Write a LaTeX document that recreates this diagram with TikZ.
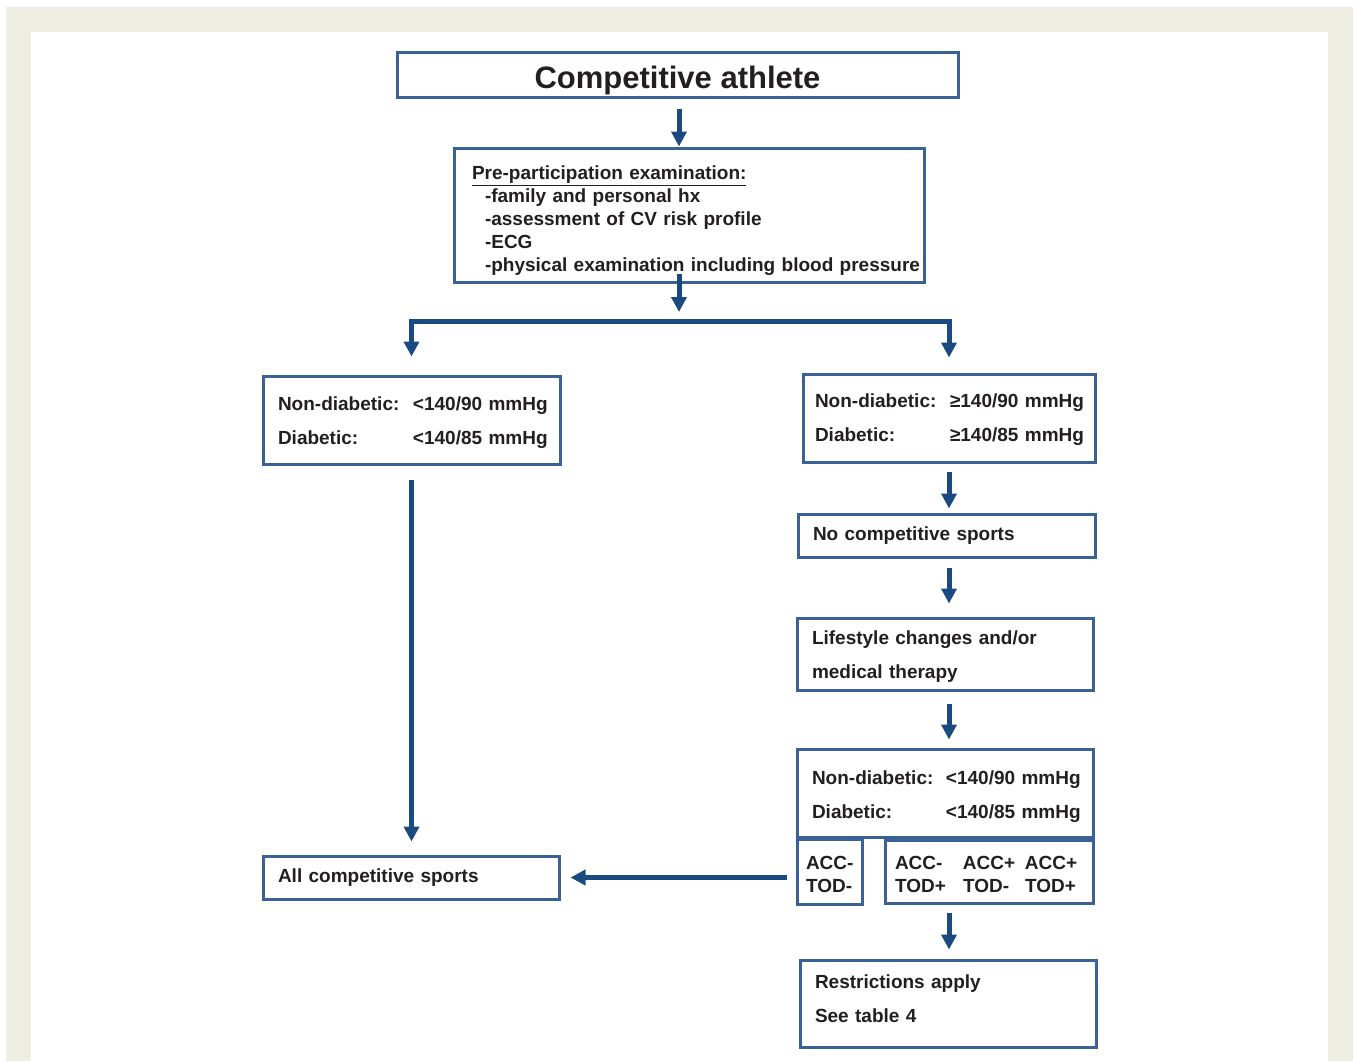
\documentclass[tikz,border=0pt]{standalone}
\usepackage{fontspec}
\setmainfont{Liberation Sans}
\usepackage{tikz}
\usetikzlibrary{arrows.meta,calc}
\definecolor{frameblue}{RGB}{58,98,150}
\definecolor{arrowblue}{RGB}{26,74,130}
\definecolor{pagebeige}{RGB}{239,238,227}
\definecolor{textgray}{RGB}{35,31,32}
\newcommand{\bpcol}[2]{\mbox{\makebox[#1][l]{#2}}}

\begin{document}
\begin{tikzpicture}[x=1pt, y=-1pt,
  block/.style={draw=frameblue, line width=3pt, fill=white, text=textgray, align=left,
    inner xsep=15pt, inner ysep=0pt, font=\bfseries\fontsize{19}{34}\selectfont},
  tightblock/.style={block, inner xsep=#1, font=\bfseries\fontsize{19}{23}\selectfont},
  arrow/.style={-{Triangle[length=15pt,width=15pt]}, line width=5pt, draw=arrowblue}
]
\useasboundingbox (0,0) rectangle (1353,1061);
\fill[pagebeige] (6,7) rectangle (1353,1061);
\fill[white] (31,32) rectangle (1328,1061);

\node[block, align=center, minimum width=561pt, minimum height=45pt, text height=27pt, text depth=0pt,
  font=\bfseries\fontsize{31}{36}\selectfont] (athlete) at (677.5,74.5) {Competitive athlete};
\node[tightblock=18pt, text width=434pt, minimum height=134pt, text depth=84pt] (ppe) at (689,215)
  {\mbox{\underline{Pre-participation examination:}}\\
   \mbox{\hspace*{13pt}-family and personal hx}\\
   \mbox{\hspace*{13pt}-assessment of CV risk profile}\\
   \mbox{\hspace*{13pt}-ECG}\\
   \mbox{\hspace*{13pt}-physical examination including blood pressure}};
\node[block, text width=267pt, minimum height=88pt, text depth=32pt] (normleft) at (411.5,420)
  {\bpcol{135pt}{Non-diabetic:}\mbox{<140/90 mmHg}\\\bpcol{135pt}{Diabetic:}\mbox{<140/85 mmHg}};
\node[block, inner xsep=12pt, text width=268pt, minimum height=88pt, text depth=34pt] (highright) at (949,418)
  {\bpcol{135pt}{Non-diabetic:}\mbox{≥140/90 mmHg}\\\bpcol{135pt}{Diabetic:}\mbox{≥140/85 mmHg}};
\node[block, text width=267pt, minimum height=43pt] (nosport) at (946.5,535.5) {No competitive sports};
\node[block, text width=266pt, minimum height=72pt, text depth=32pt] (lifestyle) at (945,654)
  {Lifestyle changes and/or\\medical therapy};
\node[block, text width=266pt, minimum height=88pt, text depth=30pt] (control) at (945,793)
  {\bpcol{134pt}{Non-diabetic:}\mbox{<140/90 mmHg}\\\bpcol{134pt}{Diabetic:}\mbox{<140/85 mmHg}};
\node[tightblock=9pt, text width=47pt, minimum height=65pt, text depth=17pt] (accnone) at (829.5,871.5)
  {\mbox{ACC-}\\\mbox{TOD-}};
\node[tightblock=10pt, text width=188pt, minimum height=63pt, text depth=17pt] (accplus) at (989,871.5)
  {\bpcol{68pt}{ACC-}\bpcol{62pt}{ACC+}\mbox{ACC+}\\\bpcol{68pt}{TOD+}\bpcol{62pt}{TOD-}\mbox{TOD+}};
\node[block, text width=266pt, minimum height=87pt, text depth=44pt] (restrict) at (948,1003.5)
  {Restrictions apply\\See table 4};
\node[block, text width=266pt, minimum height=43pt] (allsports) at (411,877.5) {All competitive sports};

\coordinate (split) at (679,321);
\draw[arrow, shorten <=10pt] (athlete.south -| split) -- (split |- ppe.north);
\draw[arrow, shorten <=-10pt, shorten >=9pt] (ppe.south -| split) -- (split);
\draw[arrow, shorten >=18pt] (split) -| (normleft.north);
\draw[arrow, shorten >=15pt] (split) -| (highright.north);
\draw[arrow, shorten <=8pt, shorten >=4pt] (highright.south) -- (highright.south |- nosport.north);
\draw[arrow, shorten <=9pt, shorten >=13pt] (highright.south |- nosport.south) -- (highright.south |- lifestyle.north);
\draw[arrow, shorten <=12pt, shorten >=8pt] (highright.south |- lifestyle.south) -- (highright.south |- control.north);
\draw[arrow, shorten <=8pt, shorten >=9pt] (highright.south |- accplus.south) -- (highright.south |- restrict.north);
\draw[arrow, shorten <=14pt, shorten >=13pt] (normleft.south) -- (normleft.south |- allsports.north);
\draw[arrow, shorten <=9pt, shorten >=10pt] (allsports.east -| accnone.west) -- (allsports.east);
\end{tikzpicture}
\end{document}
